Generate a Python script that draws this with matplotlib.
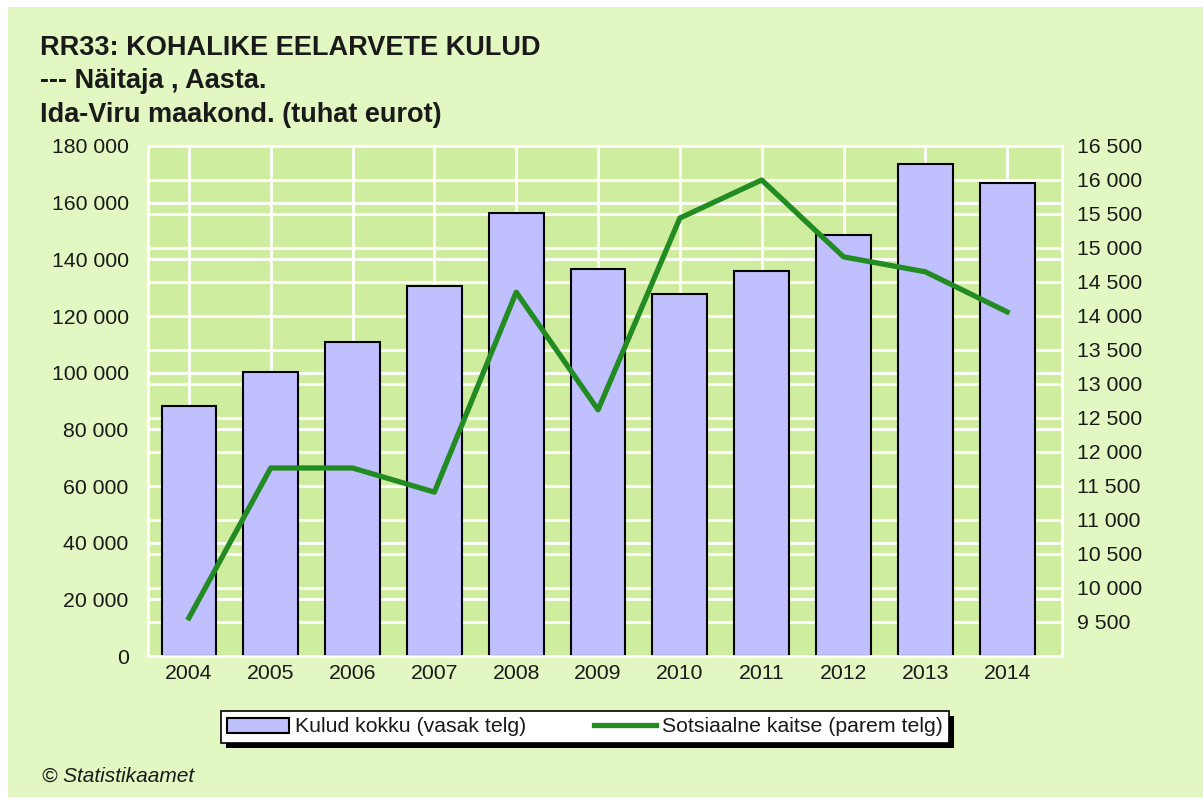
import matplotlib
matplotlib.use("Agg")

import numpy as np
import matplotlib.pyplot as plt
from matplotlib.patches import Rectangle, Patch
from matplotlib.lines import Line2D
from matplotlib.transforms import blended_transform_factory

plt.rcParams["font.family"] = ["Liberation Sans", "DejaVu Sans"]

# andmed
years = ["2004", "2005", "2006", "2007", "2008", "2009", "2010", "2011", "2012", "2013", "2014"]
kulud_kokku = [88200, 100200, 110800, 130600, 156400, 136600, 127800, 135900, 148600, 173600, 166900]
sotsiaalne_kaitse = [9560, 11765, 11765, 11410, 14350, 12620, 15440, 16000, 14870, 14650, 14060]

left_ticks = list(range(0, 180001, 20000))
right_ticks = list(range(9500, 16501, 500))

def fmt(v):
    return f"{v:,}".replace(",", " ")

BG = "#e2f7c2"
PLOT_BG = "#cfed9f"
BAR = "#c0c0ff"
LINE = "#228b22"
TXT = "#1a1a1a"
FS = 15.3

fig = plt.figure(figsize=(12.03, 8.0), dpi=100, facecolor="white")
# heleroheline taust (valge serv üleval, vasakul ja all)
fig.patches.append(Rectangle((8 / 1203, 3 / 800), 1 - 8 / 1203, 1 - 10 / 800,
                             transform=fig.transFigure, facecolor=BG, edgecolor="none", zorder=-10))

ax = fig.add_axes([148 / 1203, 1 - 656 / 800, (1062 - 148) / 1203, (656 - 146) / 800])
ax.set_facecolor(PLOT_BG)
ax2 = ax.twinx()

x = np.arange(len(years))
ax.bar(x, kulud_kokku, width=0.67, color=BAR, edgecolor="black", linewidth=1.5, zorder=3)
ax2.plot(x, sotsiaalne_kaitse, color=LINE, linewidth=3.8, zorder=4)

ax.set_xlim(-0.5, 10.67)
ax.set_ylim(0, 180000)
ax2.set_ylim(9000, 16500)

ax.set_xticks(x)
ax.set_xticklabels(years)
ax.set_yticks(left_ticks)
ax.set_yticklabels([fmt(v) for v in left_ticks])
ax2.set_yticks(right_ticks)
ax2.set_yticklabels([fmt(v) for v in right_ticks])

ax.tick_params(axis="both", length=0, labelsize=FS, colors=TXT)
ax.tick_params(axis="y", pad=14)
ax.tick_params(axis="x", pad=6)
ax2.tick_params(axis="y", length=0, labelsize=FS, colors=TXT, pad=11)

# ruudustik: vasaku ja parema telje jooned taustal
ax.set_axisbelow(True)
ax.grid(True, axis="both", color="white", linewidth=2)
trans_r = blended_transform_factory(ax.transAxes, ax2.transData)
for v in right_ticks:
    ax.plot([0, 1], [v, v], transform=trans_r, color="white", linewidth=2, zorder=0.6)

for a in (ax, ax2):
    for s in a.spines.values():
        s.set_color("white")
        s.set_linewidth(2)

# pealkiri
title_lines = ["RR33: KOHALIKE EELARVETE KULUD", "--- Näitaja , Aasta.", "Ida-Viru maakond. (tuhat eurot)"]
for txt, yy in zip(title_lines, [48, 81, 115]):
    fig.text(40 / 1203, 1 - yy / 800, txt, fontsize=19.5, fontweight="bold",
             color=TXT, va="center", ha="left")

# legend
handles = [Patch(facecolor=BAR, edgecolor="black", linewidth=1.5),
           Line2D([], [], color=LINE, linewidth=3.8)]
labels = ["Kulud kokku (vasak telg)", "Sotsiaalne kaitse (parem telg)"]
leg = fig.legend(handles, labels, loc="center", bbox_to_anchor=(585 / 1203, 1 - 727 / 800),
                 ncol=2, fontsize=FS, frameon=True, fancybox=False,
                 edgecolor="black", facecolor="white", framealpha=1, columnspacing=3.2,
                 handlelength=2.9, handletextpad=0.3, borderpad=0.3)
leg.get_frame().set_linewidth(1.2)
for t in leg.get_texts():
    t.set_color(TXT)

# legendi must vari
fig.canvas.draw()
bb = leg.get_window_extent().transformed(fig.transFigure.inverted())
fig.patches.append(Rectangle((bb.x0 + 5 / 1203, bb.y0 - 5 / 800), bb.width, bb.height,
                             transform=fig.transFigure, facecolor="black", edgecolor="none", zorder=2))

fig.text(42 / 1203, 1 - 776 / 800, "© Statistikaamet", fontsize=15, style="italic",
         color=TXT, va="center", ha="left")

fig.savefig("out.png", dpi=100, facecolor=fig.get_facecolor())
